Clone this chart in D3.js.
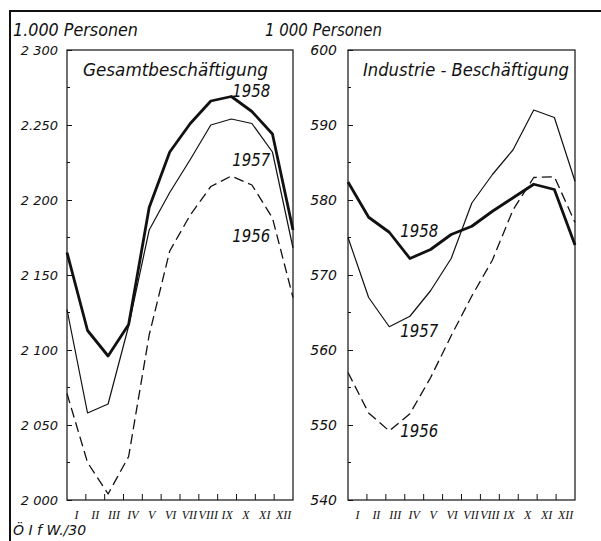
<!DOCTYPE html>
<html>
<head>
<meta charset="utf-8">
<script src="https://cdn.jsdelivr.net/npm/d3@7.9.0/dist/d3.min.js"></script>
<style>
  body { margin: 0; background: #fff; }
  svg text { font-family: "DejaVu Sans", sans-serif; font-style: italic; fill: #111; }
</style>
</head>
<body>
<svg id="chart" width="601" height="541"></svg>
<script>
// months on the x axis
const months = ["I", "II", "III", "IV", "V", "VI", "VII", "VIII", "IX", "X", "XI", "XII"];

// Gesamtbeschäftigung, 1.000 Personen
const gesamt1956 = [2071, 2025, 2004, 2029, 2110, 2166, 2190, 2209, 2216, 2210, 2188, 2135];
const gesamt1957 = [2127, 2058, 2064, 2116, 2180, 2205, 2227, 2250, 2254, 2251, 2232, 2168];
const gesamt1958 = [2165, 2113, 2096, 2117, 2195, 2232, 2251, 2266, 2269, 2259, 2244, 2180];
const gesamtTicks = [2000, 2050, 2100, 2150, 2200, 2250, 2300];
const gesamtTickLabels = ["2 000", "2 050", "2 100", "2 150", "2 200", "2.250", "2 300"];

// Industrie-Beschäftigung, 1 000 Personen
const industrie1956 = [557, 551.6, 549.2, 551.5, 556.3, 561.9, 567.2, 572, 578.7, 583, 583.1, 577];
const industrie1957 = [575, 567, 563.1, 564.5, 567.9, 572.2, 579.6, 583.4, 586.7, 592, 591, 582.5];
const industrie1958 = [582.4, 577.7, 575.7, 572.2, 573.4, 575.4, 576.5, 578.5, 580.3, 582.1, 581.4, 574];
const industrieTicks = [540, 550, 560, 570, 580, 590, 600];

const svg = d3.select("#chart");

// outer frame: left and top edge only
svg.append("path")
  .attr("d", "M10,541V11H601")
  .attr("fill", "none")
  .attr("stroke", "#111")
  .attr("stroke-width", 2);

const lineStyles = {
  "1958": { width: 2.8, dash: null },
  "1957": { width: 1.2, dash: null },
  "1956": { width: 1.3, dash: "10,5" },
};

function drawPanel(p) {
  const g = svg.append("g");
  const x = d3.scalePoint().domain(months).range([p.left, p.right]);
  const xb = d3.scaleBand().domain(months).range([p.left, p.right]);
  const y = d3.scaleLinear().domain(p.domain).range([p.bottom, p.top]);

  // plot box
  g.append("rect")
    .attr("x", p.left).attr("y", p.top)
    .attr("width", p.right - p.left).attr("height", p.bottom - p.top)
    .attr("fill", "none").attr("stroke", "#111").attr("stroke-width", 1.2);

  // minor y ticks
  const minor = d3.range(p.domain[0], p.domain[1], p.minorStep).filter((v) => !p.ticks.includes(v));
  g.selectAll(".minor").data(minor).join("line")
    .attr("x1", p.left).attr("x2", p.left + 3)
    .attr("y1", (d) => y(d)).attr("y2", (d) => y(d))
    .attr("stroke", "#111");

  const yAxis = d3.axisLeft(y)
    .tickValues(p.ticks)
    .tickSize(-5)
    .tickPadding(p.tickPad)
    .tickFormat((d, i) => p.tickLabels[i]);
  const ya = g.append("g").attr("transform", `translate(${p.left},0)`).call(yAxis);
  ya.select(".domain").remove();
  ya.selectAll("line").attr("stroke", "#111");
  ya.selectAll("text")
    .style("font-family", "DejaVu Sans, sans-serif")
    .style("font-style", "italic")
    .style("font-size", p.tickFont + "px")
    .attr("fill", "#111");

  // month boundary ticks
  g.selectAll(".mtick").data(months.slice(1)).join("line")
    .attr("x1", (d) => xb(d)).attr("x2", (d) => xb(d))
    .attr("y1", p.bottom).attr("y2", p.bottom - 6)
    .attr("stroke", "#111");

  // month labels centred in each month
  const xAxis = d3.axisBottom(xb).tickSize(0).tickPadding(10);
  const xa = g.append("g").attr("transform", `translate(0,${p.bottom})`).call(xAxis);
  xa.select(".domain").remove();
  xa.selectAll("text")
    .style("font-family", "Liberation Serif, serif")
    .style("font-style", "italic")
    .style("font-size", "12px")
    .attr("fill", "#111");

  const line = d3.line().x((d, i) => x(months[i])).y((d) => y(d));
  p.series.forEach((s) => {
    const st = lineStyles[s.year];
    g.append("path")
      .datum(s.values)
      .attr("d", line)
      .attr("fill", "none")
      .attr("stroke", "#111")
      .attr("stroke-width", st.width)
      .attr("stroke-dasharray", st.dash)
      .attr("stroke-linejoin", "round");
  });

  // year labels
  p.labels.forEach((l) => {
    g.append("text")
      .attr("x", x(l.month) + l.dx)
      .attr("y", y(l.value))
      .attr("textLength", 38)
      .attr("lengthAdjust", "spacingAndGlyphs")
      .style("font-size", "18px")
      .text(l.year);
  });

  // title in the plot
  g.append("text")
    .attr("x", p.titleX).attr("y", 76)
    .attr("textLength", p.titleLen)
    .attr("lengthAdjust", "spacingAndGlyphs")
    .style("font-size", "17px")
    .text(p.title);

  // unit header
  g.append("text")
    .attr("x", p.unitX).attr("y", 36)
    .attr("textLength", p.unitLen)
    .attr("lengthAdjust", "spacingAndGlyphs")
    .style("font-size", "17px")
    .text(p.unit);
}

drawPanel({
  left: 67, right: 293, top: 50, bottom: 500,
  domain: [2000, 2300], minorStep: 25,
  ticks: gesamtTicks, tickLabels: gesamtTickLabels, tickPad: 9, tickFont: 13,
  title: "Gesamtbeschäftigung", titleX: 83, titleLen: 185,
  unit: "1.000 Personen", unitX: 13, unitLen: 125,
  series: [
    { year: "1956", values: gesamt1956 },
    { year: "1957", values: gesamt1957 },
    { year: "1958", values: gesamt1958 },
  ],
  labels: [
    { year: "1958", month: "IX", value: 2269, dx: 1 },
    { year: "1957", month: "IX", value: 2223, dx: 1 },
    { year: "1956", month: "IX", value: 2172, dx: 1 },
  ],
});

drawPanel({
  left: 348, right: 575, top: 50, bottom: 500,
  domain: [540, 600], minorStep: 5,
  ticks: industrieTicks, tickLabels: industrieTicks.map(String), tickPad: 11, tickFont: 14,
  title: "Industrie - Beschäftigung", titleX: 363, titleLen: 206,
  unit: "1 000 Personen", unitX: 265, unitLen: 117,
  series: [
    { year: "1956", values: industrie1956 },
    { year: "1957", values: industrie1957 },
    { year: "1958", values: industrie1958 },
  ],
  labels: [
    { year: "1958", month: "III", value: 575.1, dx: 11 },
    { year: "1957", month: "III", value: 561.7, dx: 11 },
    { year: "1956", month: "III", value: 548.4, dx: 11 },
  ],
});

// source note
svg.append("text")
  .attr("x", 13).attr("y", 535)
  .style("font-size", "14px")
  .text("Ö I f W./30");
</script>
</body>
</html>
